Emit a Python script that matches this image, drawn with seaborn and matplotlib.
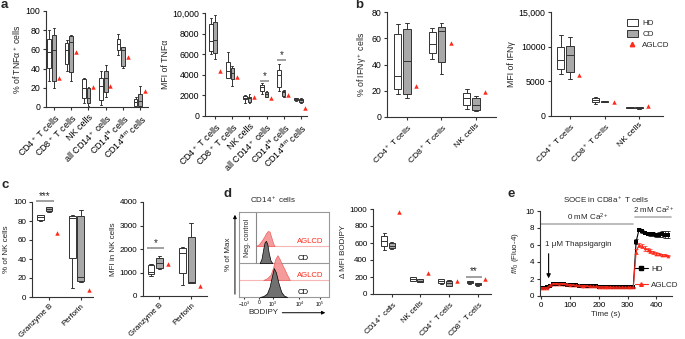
import pandas as pd
import seaborn as sns
import matplotlib.pyplot as plt
from matplotlib.patches import Patch
from matplotlib.lines import Line2D

# Boxes are read off the figure as five-number summaries:
# [min, q1, median, q3, max]. AGLCD is one patient, one value per cell type.

# panel a: TNFa
a_cats = [r'CD4$^+$ T cells', r'CD8$^+$ T cells', 'NK cells',
          r'all CD14$^+$ cells', r'CD14$^{hi}$ cells', r'CD14$^{dim}$ cells']
a1_hd = [[27, 41, 57, 71, 80], [38, 45, 59, 67, 70], [4, 9, 20, 29, 30],
         [2, 7, 22, 30, 37], [54, 59, 66, 71, 76], [0, 1, 5, 8, 10]]
a1_cd = [[20, 27, 59, 75, 82], [27, 36, 68, 74, 75], [1, 4, 9, 20, 21],
         [10, 16, 30, 38, 44], [41, 43, 59, 62, 63], [0, 1, 6, 14, 22]]
a1_aglcd = [30, 57, 21, 22, 52, 17]
a1_yticks = [0, 20, 40, 60, 80, 100]

a2_hd = [[5990, 6340, 7280, 8930, 9500], [3720, 3720, 4400, 5210, 6180],
         [1230, 1620, 1780, 1940, 2040], [2140, 2460, 2800, 3040, 3200],
         [2390, 2780, 3950, 4500, 5080], [1490, 1550, 1620, 1720, 1780]]
a2_cd = [[5500, 6150, 7380, 9090, 9800], [2910, 3560, 4200, 4630, 4850],
         [1230, 1390, 1720, 1880, 2140], [1810, 1810, 2100, 2300, 2430],
         [1880, 1970, 2300, 2430, 2520], [1230, 1330, 1550, 1620, 1720]]
a2_aglcd = [4400, 3820, 1810, 1720, 2040, 810]
a2_yticks = [0, 2000, 4000, 6000, 8000, 10000]
a2_yticklabels = ['0', '2000', '4000', '6000', '8000', '10,000']
a2_sig = [(3, 3400, '*'), (4, 5400, '*')]

# panel b: IFNg
b_cats = [r'CD4$^+$ T cells', r'CD8$^+$ T cells', 'NK cells']
b1_hd = [[17.5, 21, 31, 63, 71], [44, 48.7, 56, 64.5, 68], [6, 8.9, 14.5, 18.3, 21.3]]
b1_cd = [[14.5, 17.5, 42.4, 67, 72], [32.7, 41.6, 65.7, 68.8, 72], [4.8, 5.6, 9.4, 14.5, 15.7]]
b1_aglcd = [24, 56.6, 19]
b1_yticks = [0, 20, 40, 60, 80]

b2_hd = [[6100, 6780, 8030, 9900, 11730], [1780, 2020, 2360, 2600, 2690], [1100, 1150, 1200, 1250, 1300]]
b2_cd = [[5380, 6390, 8850, 10140, 11350], [1950, 2000, 2080, 2150, 2200], [1050, 1100, 1150, 1250, 1300]]
b2_aglcd = [5910, 1970, 1490]
b2_yticks = [0, 5000, 10000, 15000]
b2_yticklabels = ['0', '5000', '10000', '15,000']

# panel c: NK cell cytotoxic molecules
c_cats = ['Granzyme B', 'Perforin']
c1_hd = [[80, 81, 84, 86, 86], [9, 41.4, 83.5, 85.6, 86]]
c1_cd = [[90, 90.5, 93, 94.5, 95], [15.4, 16.8, 21.4, 85.6, 91.6]]
c1_aglcd = [67, 7.7]
c1_yticks = [0, 20, 40, 60, 80, 100]
c1_sig = [(0, 101, '***')]

c2_hd = [[850, 920, 1030, 1340, 1380], [460, 990, 1830, 2040, 2080]]
c2_cd = [[1130, 1200, 1410, 1620, 1690], [560, 570, 580, 2530, 3090]]
c2_aglcd = [1380, 430]
c2_yticks = [0, 1000, 2000, 3000, 4000]
c2_sig = [(0, 2040, '*')]

# panel d: BODIPY
d_cats = [r'CD14$^+$ cells', 'NK cells', r'CD4$^+$ T cells', r'CD8$^+$ T cells']
d_hd = [[512, 567, 626, 677, 716], [150, 154, 177, 197, 200],
        [120, 126, 150, 173, 178], [122, 126, 138, 154, 157]]
d_cd = [[530, 540, 567, 598, 610], [140, 142, 157, 173, 175],
        [90, 94, 130, 157, 162], [100, 102, 114, 126, 128]]
d_aglcd = [965, 244, 150, 181]
d_yticks = [0, 200, 400, 600, 800, 1000]
d_sig = [(3, 205, '**')]

# flow histograms, x in display units (0-100), heights in row units
neg_aglcd_x = [19, 22, 25, 28, 30, 32, 34, 36, 38, 39.5]
neg_aglcd_h = [0, 0.1, 0.3, 0.55, 0.75, 0.88, 0.85, 0.5, 0.15, 0]
neg_cd_x = [23, 25, 27, 28.5, 30, 31.5, 33, 35, 37]
neg_cd_h = [0, 0.25, 0.85, 1.22, 1.3, 1.1, 0.6, 0.15, 0]
pos_aglcd_x = [27, 31, 35, 38, 40, 42.7, 45, 47, 50, 53, 56.5]
pos_aglcd_h = [0, 0.1, 0.3, 0.75, 1.2, 1.46, 1.25, 1.0, 0.7, 0.35, 0]
pos_cd_x = [23, 27, 31, 34, 36.5, 38.7, 41, 44, 47, 50, 53.5]
pos_cd_h = [0, 0.05, 0.2, 0.6, 1.2, 1.7, 1.45, 0.8, 0.3, 0.08, 0]
flow_ticks = [5.6, 22, 38, 67, 90]
flow_ticklabels = [r'$-10^3$', '0', r'$10^3$', r'$10^4$', r'$10^5$']

# panel e: SOCE
e_time = [0, 10, 20, 30, 40, 50, 60, 70, 80, 90, 100, 110, 120, 130, 140,
          150, 160, 170, 180, 190, 200, 210, 220, 230, 240, 250, 260, 270,
          280, 290, 300, 310, 320, 330, 340, 350, 360, 370, 380, 390, 400,
          410, 420, 430, 440]
e_hd = [1.0, 1.0, 1.02, 1.2, 1.38, 1.4, 1.42, 1.4, 1.38, 1.35, 1.3, 1.27,
        1.24, 1.22, 1.2, 1.18, 1.16, 1.14, 1.13, 1.12, 1.1, 1.09, 1.08,
        1.07, 1.06, 1.05, 1.05, 1.04, 1.04, 1.03, 1.03, 1.02, 1.02,
        6.4, 7.8, 7.6, 7.4, 7.3, 7.3, 7.3, 7.2, 7.2, 7.3, 7.2, 7.2]
e_hd_err = [0.05, 0.05, 0.05, 0.05, 0.06, 0.06, 0.06, 0.06, 0.06, 0.06,
            0.05, 0.05, 0.05, 0.05, 0.05, 0.05, 0.05, 0.05, 0.05, 0.05,
            0.05, 0.05, 0.05, 0.05, 0.05, 0.05, 0.05, 0.05, 0.05, 0.05,
            0.05, 0.05, 0.05, 0.3, 0.2, 0.2, 0.15, 0.15, 0.2, 0.2, 0.25,
            0.3, 0.35, 0.4, 0.4]
e_aglcd = [1.0, 0.98, 1.0, 1.25, 1.42, 1.45, 1.46, 1.45, 1.42, 1.38, 1.33,
           1.3, 1.27, 1.24, 1.22, 1.2, 1.18, 1.16, 1.14, 1.12, 1.1, 1.1,
           1.08, 1.07, 1.06, 1.05, 1.05, 1.04, 1.04, 1.03, 1.03, 1.03, 1.02,
           5.2, 6.0, 5.85, 5.6, 5.45, 5.3, 5.15, 5.0, 4.95, 4.85, 4.8, 4.75]
e_aglcd_err = [0.05, 0.05, 0.05, 0.05, 0.06, 0.06, 0.06, 0.06, 0.06, 0.06,
               0.05, 0.05, 0.05, 0.05, 0.05, 0.05, 0.05, 0.05, 0.05, 0.05,
               0.05, 0.05, 0.05, 0.05, 0.05, 0.05, 0.05, 0.05, 0.05, 0.05,
               0.05, 0.05, 0.05, 0.3, 0.25, 0.25, 0.25, 0.2, 0.2, 0.2, 0.2,
               0.15, 0.15, 0.1, 0.1]

GROUPS = ['HD', 'CD', 'AGLCD']
RED = '#ff2a1a'
EDGE = '#333333'
PALETTE = {'HD': 'white', 'CD': '#a8a8a8', 'AGLCD': RED}
FS = 5.8
W, H = 685, 339

sns.set_style('ticks')
plt.rcParams['font.family'] = ['Liberation Sans', 'DejaVu Sans']
plt.rcParams.update({
    'mathtext.fontset': 'custom',
    'mathtext.rm': 'Liberation Sans',
    'mathtext.it': 'Liberation Sans:italic',
    'mathtext.bf': 'Liberation Sans:bold',
    'mathtext.default': 'regular',
    'axes.linewidth': 0.8,
    'axes.edgecolor': EDGE,
    'xtick.major.width': 0.8,
    'ytick.major.width': 0.8,
    'xtick.major.size': 2.5,
    'ytick.major.size': 2.5,
    'xtick.major.pad': 1.5,
    'ytick.major.pad': 1.5,
    'xtick.color': EDGE,
    'ytick.color': EDGE,
    'xtick.labelcolor': 'black',
    'ytick.labelcolor': 'black',
})

fig = plt.figure(figsize=(W / 100, H / 100), dpi=100)


def rect(x0, y0, x1, y1):
    """pixel box (top-left origin) -> figure fraction rect"""
    return [x0 / W, 1 - y1 / H, (x1 - x0) / W, (y1 - y0) / H]


def box_table(cats, hd, cd, aglcd):
    rows = []
    for cat, h, c, a in zip(cats, hd, cd, aglcd):
        rows += [(cat, 'HD', v) for v in h]
        rows += [(cat, 'CD', v) for v in c]
        rows.append((cat, 'AGLCD', a))
    return pd.DataFrame(rows, columns=['cell', 'group', 'value'])


def box_panel(box, cats, hd, cd, aglcd, yticks, ylabel, xlim,
              yticklabels=None, sig=(), fs=FS, cat_fs=FS):
    ax = fig.add_axes(rect(*box))
    df = box_table(cats, hd, cd, aglcd)
    sns.boxplot(data=df[df.group != 'AGLCD'], x='cell', y='value', hue='group',
                order=cats, hue_order=GROUPS, palette=PALETTE, whis=(0, 100),
                width=0.8, gap=0.2, linewidth=0.7, linecolor=EDGE,
                legend=False, ax=ax)
    sns.stripplot(data=df[df.group == 'AGLCD'], x='cell', y='value', hue='group',
                  order=cats, hue_order=GROUPS, palette=PALETTE, dodge=True,
                  jitter=False, marker='^', size=3.2, linewidth=0,
                  legend=False, ax=ax, zorder=4)
    for i, y, s in sig:
        ax.plot([i - 0.4, i + 0.15], [y, y], color='#a0a0a0', lw=1.4,
                clip_on=False, solid_capstyle='butt')
        ax.text(i - 0.12, y, s, ha='center', va='bottom', fontsize=7)
    ax.set_xlim(*xlim)
    ax.set_ylim(yticks[0], yticks[-1])
    ax.set_yticks(yticks)
    ax.set_yticklabels(yticklabels if yticklabels else [str(t) for t in yticks],
                       fontsize=fs)
    ax.set_xticks(range(len(cats)))
    ax.set_xticklabels(cats, rotation=45, ha='right', rotation_mode='anchor',
                       fontsize=cat_fs)
    ax.set_xlabel('')
    ax.set_ylabel(ylabel, fontsize=fs, labelpad=2)
    sns.despine(ax=ax)
    return ax


box_panel((46, 11, 148, 107), a_cats, a1_hd, a1_cd, a1_aglcd, a1_yticks,
          '% of TNFα$^+$ cells', (-0.46, 5.45), fs=6.3, cat_fs=6.5)
box_panel((205, 13, 307, 116), a_cats, a2_hd, a2_cd, a2_aglcd, a2_yticks,
          'MFI of TNFα', (-0.6, 5.37), a2_yticklabels, a2_sig,
          fs=6.3, cat_fs=6.5)
box_panel((387, 12, 496, 117), b_cats, b1_hd, b1_cd, b1_aglcd, b1_yticks,
          '% of IFNγ$^+$ cells', (-0.58, 2.58), fs=6.3, cat_fs=6.1)
ax_b2 = box_panel((551, 12, 663, 116), b_cats, b2_hd, b2_cd, b2_aglcd,
                  b2_yticks, 'MFI of IFNγ', (-0.55, 2.69), b2_yticklabels,
                  fs=6.3, cat_fs=6.1)
handles = [Patch(facecolor='white', edgecolor=EDGE, lw=0.7),
           Patch(facecolor=PALETTE['CD'], edgecolor=EDGE, lw=0.7),
           Line2D([], [], ls='', marker='^', color=RED, markersize=3.2)]
ax_b2.legend(handles, GROUPS, loc='upper left', bbox_to_anchor=(0.68, 0.93),
             frameon=False, fontsize=FS, handlelength=1.3, handleheight=0.9,
             labelspacing=0.35, handletextpad=0.6, borderpad=0, borderaxespad=0)
box_panel((32, 202, 93, 297), c_cats, c1_hd, c1_cd, c1_aglcd, c1_yticks,
          '% of NK cells', (-0.53, 1.38), sig=c1_sig)
box_panel((143, 202, 207, 296), c_cats, c2_hd, c2_cd, c2_aglcd, c2_yticks,
          'MFI in NK cells', (-0.52, 1.5), sig=c2_sig)
box_panel((373, 209, 491, 294), d_cats, d_hd, d_cd, d_aglcd, d_yticks,
          'Δ MFI BODIPY', (-0.66, 3.47), sig=d_sig, cat_fs=5.4)

# ---- d: flow cytometry overlay ----
ax = fig.add_axes(rect(239, 212, 329, 297))
ax.axhline(2, color='#999999', lw=0.8)
ax.plot([18.6, 100], [3, 3], color='#f7b5b5', lw=0.8)
ax.plot([0, 100], [1, 1], color='#f7b5b5', lw=0.8)
ax.plot([18.6, 18.6], [2, 5], color='#888888', lw=0.8)
curves = [(neg_aglcd_x, neg_aglcd_h, 3, 'AGLCD'), (neg_cd_x, neg_cd_h, 2, 'CD'),
          (pos_aglcd_x, pos_aglcd_h, 1, 'AGLCD'), (pos_cd_x, pos_cd_h, 0, 'CD')]
for x, h, base, grp in curves:
    top = [base + v for v in h]
    if grp == 'AGLCD':
        ax.fill_between(x, base, top, facecolor='#f59090', edgecolor='#ee5555',
                        lw=0.5, alpha=0.9, zorder=2)
        ax.text(79, base + 0.08, 'AGLCD', color=RED, fontsize=5.6, ha='center',
                va='bottom')
    else:
        ax.fill_between(x, base, top, facecolor='#707070', edgecolor='black',
                        lw=0.5, zorder=3)
        ax.text(71, base + 0.08, 'CD', color='black', fontsize=5.6, ha='center',
                va='bottom')
ax.text(9.3, 3.5, 'Neg. control', rotation=90, fontsize=5, ha='center',
        va='center')
ax.set_xlim(0, 100)
ax.set_ylim(0, 5)
ax.set_yticks([])
ax.set_xticks(flow_ticks)
ax.set_xticklabels(flow_ticklabels, fontsize=3.6)
ax.tick_params(axis='x', length=1.5, pad=0.8)
for s in ax.spines.values():
    s.set_color('#999999')
ax.set_ylabel('% of Max', fontsize=FS, labelpad=5)
ax.annotate('', xy=(-0.045, 1.0), xytext=(-0.045, 0.0), xycoords='axes fraction',
            arrowprops=dict(arrowstyle='-|>', color='black', lw=0.7,
                            mutation_scale=5), annotation_clip=False)
ax.text(0.27, -0.185, 'BODIPY', transform=ax.transAxes, fontsize=FS,
        ha='center', va='center')
ax.annotate('', xy=(0.99, -0.185), xytext=(0.45, -0.185), xycoords='axes fraction',
            arrowprops=dict(arrowstyle='-|>', color='black', lw=0.7,
                            mutation_scale=5), annotation_clip=False)
ax.text(0.38, 1.14, r'CD14$^+$ cells', transform=ax.transAxes, fontsize=FS,
        ha='center', va='center')

# ---- e: SOCE trace ----
ax = fig.add_axes(rect(540, 211, 672, 296))
n = len(e_time)
df_e = pd.DataFrame({'time': e_time * 2, 'ratio': e_hd + e_aglcd,
                     'group': ['HD'] * n + ['AGLCD'] * n})
sns.lineplot(data=df_e, x='time', y='ratio', hue='group', style='group',
             hue_order=['HD', 'AGLCD'], style_order=['HD', 'AGLCD'],
             palette={'HD': 'black', 'AGLCD': RED},
             markers={'HD': 's', 'AGLCD': '^'}, dashes=False, markersize=2.6,
             markeredgewidth=0, linewidth=0.8, legend=False, ax=ax)
ax.errorbar(e_time, e_hd, yerr=e_hd_err, fmt='none', ecolor='black',
            elinewidth=0.5, capsize=1.2, capthick=0.5)
ax.errorbar(e_time, e_aglcd, yerr=e_aglcd_err, fmt='none', ecolor=RED,
            elinewidth=0.5, capsize=1.2, capthick=0.5)
ax.plot([0, 320], [8.45, 8.45], color='#b0b0b0', lw=1.2, clip_on=False)
ax.text(160, 8.6, r'0 mM Ca$^{2+}$', fontsize=FS, ha='center', va='bottom')
ax.plot([325, 452], [9.25, 9.25], color='#b0b0b0', lw=1.2, clip_on=False)
ax.text(390, 9.4, r'2 mM Ca$^{2+}$', fontsize=FS, ha='center', va='bottom')
ax.text(14, 6.0, '1 μM Thapsigargin', fontsize=FS, ha='left', va='center')
ax.annotate('', xy=(25, 1.75), xytext=(25, 5.3),
            arrowprops=dict(arrowstyle='-|>', color='black', lw=0.8,
                            mutation_scale=6))
leg_handles = [Line2D([], [], color='black', marker='s', markersize=2.6, lw=0.8),
               Line2D([], [], color=RED, marker='^', markersize=2.6, lw=0.8)]
ax.legend(leg_handles, ['HD', 'AGLCD'], loc='center left',
          bbox_to_anchor=(0.72, 0.22), frameon=False, fontsize=FS,
          handlelength=1.6, labelspacing=1.0, handletextpad=0.4,
          borderpad=0, borderaxespad=0)
ax.set_xlim(-5, 455)
ax.set_ylim(0, 10)
ax.set_xticks([0, 100, 200, 300, 400])
ax.set_yticks([0, 2, 4, 6, 8, 10])
ax.tick_params(labelsize=FS)
ax.set_xlabel('Time (s)', fontsize=FS, labelpad=2)
ax.set_ylabel(r'$\mathit{f/f}_0$ (Fluo-4)', fontsize=FS, labelpad=3)
ax.set_title(r'SOCE in CD8a$^+$ T cells', fontsize=FS, pad=6)
sns.despine(ax=ax)

# panel letters
for x, y, s in [(1, 8.5, 'a'), (355, 8.5, 'b'), (1, 188, 'c'),
                (223, 197, 'd'), (508, 197, 'e')]:
    fig.text(x / W, 1 - y / H, s, fontsize=9.5, fontweight='bold',
             va='baseline')

fig.savefig('out.png', dpi=100)
